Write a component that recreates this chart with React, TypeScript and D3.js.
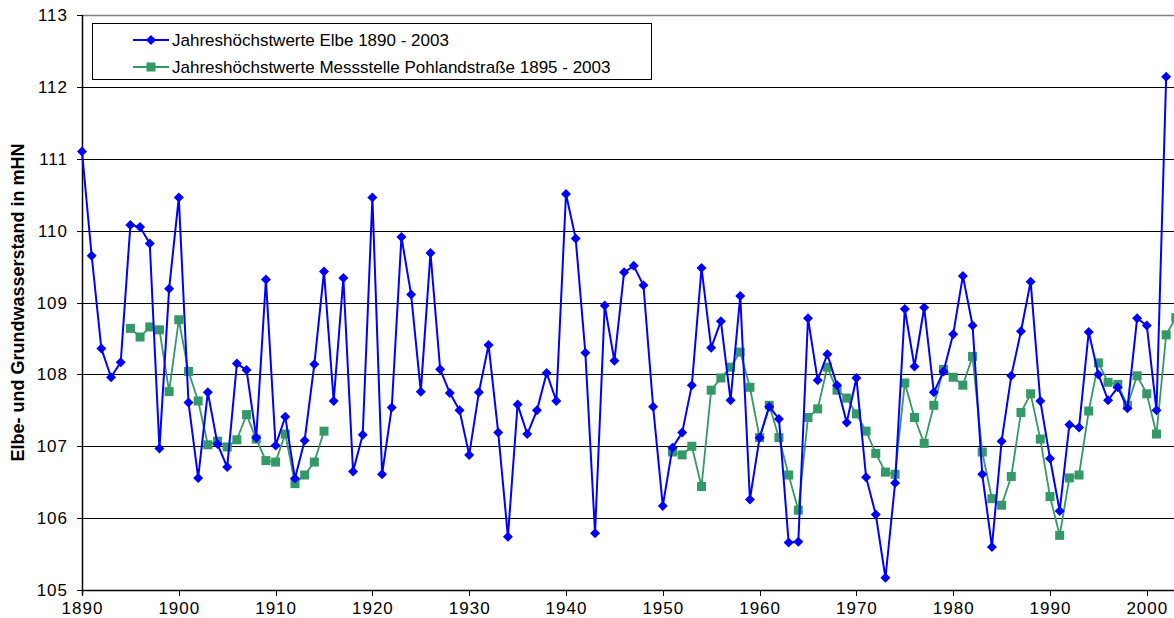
import React from "react";
import * as d3 from "d3";

const elbeStart = 1890;
const elbeValues = [
  111.10, 109.65, 108.36, 107.96, 108.17, 110.08, 110.05, 109.82, 106.97, 109.19,
  110.46, 107.61, 106.56, 107.75, 107.03, 106.71, 108.15, 108.06, 107.12, 109.32,
  107.01, 107.41, 106.55, 107.08, 108.14, 109.43, 107.63, 109.34, 106.65, 107.16,
  110.46, 106.61, 107.54, 109.91, 109.11, 107.76, 109.69, 108.07, 107.74, 107.50,
  106.88, 107.75, 108.41, 107.19, 105.74, 107.58, 107.17, 107.50, 108.02, 107.63,
  110.51, 109.89, 108.30, 105.79, 108.96, 108.19, 109.42, 109.51, 109.24, 107.55,
  106.17, 106.98, 107.19, 107.85, 109.48, 108.37, 108.74, 107.64, 109.09, 106.26,
  107.12, 107.55, 107.38, 105.66, 105.67, 108.78, 107.92, 108.28, 107.85, 107.33,
  107.95, 106.57, 106.05, 105.17, 106.49, 108.91, 108.11, 108.93, 107.75, 108.04,
  108.56, 109.37, 108.68, 106.61, 105.60, 107.07, 107.98, 108.60, 109.29, 107.63,
  106.83, 106.10, 107.30, 107.26, 108.59, 108.00, 107.64, 107.82, 107.53, 108.78,
  108.68, 107.50, 112.14,
];

const pohlandStart = 1895;
const pohlandValues: (number | null)[] = [
  108.64, 108.52, 108.66, 108.62, 107.76,
  108.76, 108.04, 107.63, 107.02, 107.07, 106.99, 107.09, 107.44, 107.10, 106.80,
  106.78, 107.17, 106.48, 106.60, 106.78, 107.21,
  null, null, null, null, null, null, null, null, null, null,
  null, null, null, null, null, null, null, null, null, null,
  null, null, null, null, null, null, null, null, null, null,
  null, null, null, null, null,
  106.92, 106.88, 107.00, 106.44, 107.78, 107.95, 108.10, 108.31, 107.82,
  107.12, 107.57, 107.12, 106.60, 106.11, 107.40, 107.52, 108.10, 107.78, 107.67,
  107.45, 107.21, 106.90, 106.64, 106.61, 107.88, 107.40, 107.04, 107.57, 108.07,
  107.96, 107.85, 108.25, 106.92, 106.27, 106.18, 106.58, 107.47, 107.73, 107.10,
  106.30, 105.76, 106.56, 106.60, 107.49, 108.16, 107.89, 107.86, 107.57, 107.98,
  107.73, 107.17, 108.55, 108.79,
];

const yTicks = [105, 106, 107, 108, 109, 110, 111, 112, 113];
const xTicks = [1890, 1900, 1910, 1920, 1930, 1940, 1950, 1960, 1970, 1980, 1990, 2000];
const legendLabels = [
  "Jahreshöchstwerte Elbe 1890 - 2003",
  "Jahreshöchstwerte Messstelle Pohlandstraße 1895 - 2003",
];
const yTitle = "Elbe- und Grundwasserstand in mHN";

const W = 1174;
const H = 618;
const BLUE = "#0000FF";
const GREEN = "#339966";
const FONT = "'Liberation Sans', Arial, sans-serif";

type Pt = { year: number; v: number | null };

export default function App() {
  const x = d3.scaleLinear().domain([1890, 2003]).range([82, 82 + 113 * 9.68]);
  const y = d3.scaleLinear().domain([105, 113]).range([590, 15]);

  const elbe: Pt[] = elbeValues.map((v, i) => ({ year: elbeStart + i, v }));
  const pohland: Pt[] = pohlandValues.map((v, i) => ({ year: pohlandStart + i, v }));

  const line = d3
    .line<Pt>()
    .defined((d) => d.v != null)
    .x((d) => x(d.year))
    .y((d) => y(d.v as number));

  const diamond = (cx: number, cy: number, r = 5) =>
    `M${cx},${cy - r}L${cx + r},${cy}L${cx},${cy + r}L${cx - r},${cy}Z`;

  const plotLeft = 82;
  const plotRight = W;

  return (
    <svg
      width={W}
      height={H}
      style={{ position: "absolute", left: 0, top: 0, background: "#fff" }}
      fontFamily={FONT}
    >
      <rect x={0} y={0} width={W} height={H} fill="#fff" />
      {/* gridlines */}
      {yTicks
        .filter((t) => t > 105 && t < 113)
        .map((t) => (
          <line key={t} x1={plotLeft} x2={plotRight} y1={Math.round(y(t)) + 0.5} y2={Math.round(y(t)) + 0.5} stroke="#000" strokeWidth={1} />
        ))}
      <line x1={plotLeft} x2={plotRight} y1={y(113) + 0.5} y2={y(113) + 0.5} stroke="#808080" strokeWidth={1.5} />
      {/* y axis */}
      <line x1={plotLeft + 0.5} x2={plotLeft + 0.5} y1={y(113)} y2={y(105) + 5} stroke="#000" strokeWidth={1.5} />
      {yTicks.map((t) => (
        <g key={t}>
          <line x1={77} x2={plotLeft} y1={Math.round(y(t)) + 0.5} y2={Math.round(y(t)) + 0.5} stroke="#000" />
          <text x={68} y={y(t)} dy="0.36em" textAnchor="end" fontSize={17} letterSpacing={1} fill="#000">
            {t}
          </text>
        </g>
      ))}
      {/* x axis */}
      <line x1={plotLeft} x2={plotRight} y1={y(105) + 0.5} y2={y(105) + 0.5} stroke="#000" strokeWidth={1.5} />
      {xTicks.map((t) => (
        <g key={t}>
          <line x1={Math.round(x(t)) + 0.5} x2={Math.round(x(t)) + 0.5} y1={590} y2={596} stroke="#000" />
          <text x={x(t) + 0.5} y={614} textAnchor="middle" fontSize={17} letterSpacing={1} fill="#000">
            {t}
          </text>
        </g>
      ))}
      {/* y title */}
      <text
        transform={`translate(18, ${(y(113) + y(105)) / 2}) rotate(-90)`}
        textAnchor="middle"
        dy="0.36em"
        fontSize={18}
        fontWeight="bold"
        fill="#000"
      >
        {yTitle}
      </text>
      {/* series */}
      <path d={line(pohland) || ""} fill="none" stroke={GREEN} strokeWidth={1.8} />
      {pohland
        .filter((d) => d.v != null)
        .map((d) => (
          <rect key={d.year} x={x(d.year) - 4.5} y={y(d.v as number) - 4.5} width={9} height={9} fill={GREEN} />
        ))}
      <path d={line(elbe) || ""} fill="none" stroke={BLUE} strokeWidth={2} />
      {elbe.map((d) => (
        <path key={d.year} d={diamond(x(d.year), y(d.v as number))} fill={BLUE} />
      ))}
      {/* legend */}
      <rect x={92.5} y={23.5} width={559} height={56} fill="#fff" stroke="#000" strokeWidth={1} />
      <line x1={133} x2={169} y1={40} y2={40} stroke={BLUE} strokeWidth={2} />
      <path d={diamond(151, 40)} fill={BLUE} />
      <text x={172} y={40} dy="0.36em" fontSize={17} fill="#000">
        {legendLabels[0]}
      </text>
      <line x1={133} x2={169} y1={67} y2={67} stroke={GREEN} strokeWidth={1.8} />
      <rect x={146.5} y={62.5} width={9} height={9} fill={GREEN} />
      <text x={172} y={67} dy="0.36em" fontSize={17} fill="#000">
        {legendLabels[1]}
      </text>
    </svg>
  );
}
